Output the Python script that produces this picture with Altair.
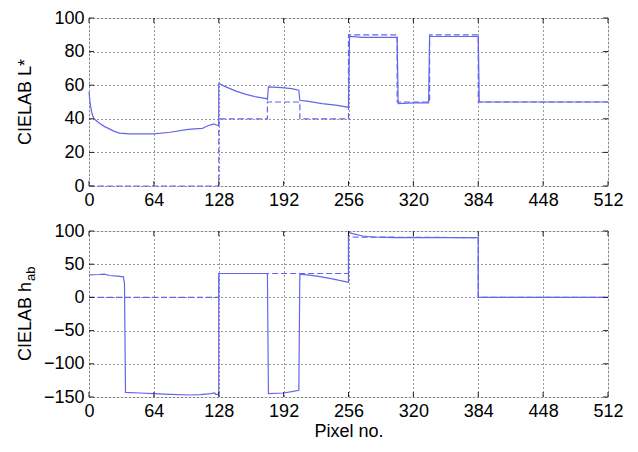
import altair as alt
import pandas as pd

FONT = "Liberation Sans"
LINE_COLOR = "#6464ec"

x_ticks = [0, 64, 128, 192, 256, 320, 384, 448, 512]
l_ticks = [0, 20, 40, 60, 80, 100]
h_ticks = [-150, -100, -50, 0, 50, 100]

# Top panel: CIELAB L*  (measured = solid, target = dashed)
l_meas_x = [0, 1, 2, 3, 5, 10, 15, 20, 25, 30, 40, 64, 80, 96, 104, 112, 114, 118, 121, 123, 125, 127, 128,
            128, 135, 145, 155, 165, 175, 176, 177, 190, 200, 207, 208, 215, 230, 245, 255, 256,
            257, 270, 304, 305, 320, 335, 336, 360, 384, 385, 512]
l_meas_y = [56, 50, 46, 43, 40, 37.5, 35.5, 34, 32.5, 31.5, 31, 31, 32, 33.5, 34, 34.3, 35, 36, 36.5, 37, 36.5, 36, 36,
            61, 59, 56.5, 54.5, 53, 52, 51.5, 59, 58.5, 58, 57, 51, 50.5, 49, 48, 47, 47,
            89, 88.5, 88.5, 49, 49.5, 49.5, 89, 89, 89, 50, 50]
l_targ_x = [0, 128, 128, 176, 176, 208, 208, 256, 256, 304, 304, 336, 336, 384, 384, 512]
l_targ_y = [0, 0, 40, 40, 50, 50, 40, 40, 90, 90, 50, 50, 90, 90, 50, 50]

# Bottom panel: CIELAB h_ab
h_meas_x = [0, 10, 15, 20, 28, 34, 35, 36, 50, 64, 80, 100, 110, 120, 124, 125, 127, 128,
            128, 150, 176, 177, 192, 200, 207, 208, 215, 225, 240, 255, 256,
            256, 260, 270, 280, 300, 384, 384, 512]
h_meas_y = [34, 34.5, 35, 33, 32, 31, 20, -143, -144, -145, -146, -147, -146.5, -145, -144, -146, -146, -146,
            36, 36, 36, -145, -144, -142, -140, 35, 34, 32, 28, 23, 23,
            98, 96, 92.5, 91, 90, 90, 0, 0]
h_targ_x = [0, 128, 128, 256, 256, 384, 384, 512]
h_targ_y = [0, 0, 36, 36, 91, 90, 0, 0]


def frame(xs, ys):
    return pd.DataFrame({"x": xs, "y": ys, "i": list(range(len(xs)))})


def panel(meas, targ, ydom, yticks, w, h, xtitle, titles):
    xaxis = alt.Axis(values=x_ticks, title=xtitle, grid=True, gridDash=[1, 3], gridColor="#333",
                     labelFontSize=18, labelFont=FONT, labelColor="black", tickSize=0, domain=False,
                     labelPadding=5, titleFont=FONT, titleFontSize=18, titleFontWeight="normal",
                     titleColor="black", titlePadding=2, labelFlush=False, labelOverlap=False)
    yaxis = alt.Axis(values=yticks, title=None, grid=True, gridDash=[1, 3], gridColor="#333",
                     labelFontSize=18, labelFont=FONT, labelColor="black", tickSize=0, domain=False,
                     labelPadding=5, labelFlush=False, labelOverlap=False)
    xs = alt.Scale(domain=[0, 512], nice=False)
    ys = alt.Scale(domain=ydom, nice=False)
    X = lambda: alt.X("x:Q", scale=xs, axis=xaxis, title=xtitle)
    Y = lambda: alt.Y("y:Q", scale=ys, axis=yaxis, title=None)

    solid = alt.Chart(meas).mark_line(color=LINE_COLOR, strokeWidth=1.2).encode(
        x=X(), y=Y(), order="i:Q")
    dashed = alt.Chart(targ).mark_line(color=LINE_COLOR, strokeWidth=1.2, strokeDash=[6, 3]).encode(
        x=X(), y=Y(), order="i:Q")

    tx = pd.DataFrame({"x": x_ticks})
    ty = pd.DataFrame({"y": yticks})
    tk_bot = alt.Chart(tx).mark_rule(color="#222", strokeWidth=1).encode(
        x=X(), y=alt.value(h - 5), y2=alt.value(h))
    tk_top = alt.Chart(tx).mark_rule(color="#222", strokeWidth=1).encode(
        x=X(), y=alt.value(0), y2=alt.value(5))
    tk_left = alt.Chart(ty).mark_rule(color="#222", strokeWidth=1).encode(
        y=Y(), x=alt.value(0), x2=alt.value(5))
    tk_right = alt.Chart(ty).mark_rule(color="#222", strokeWidth=1).encode(
        y=Y(), x=alt.value(w - 5), x2=alt.value(w))

    layers = [solid, dashed, tk_bot, tk_top, tk_left, tk_right] + titles
    return alt.layer(*layers).properties(width=w, height=h)


W = 519
H1 = 168
H2 = 166

top_title = alt.Chart(pd.DataFrame({"t": ["CIELAB L*"]})).mark_text(
    angle=270, font=FONT, fontSize=18, color="black", align="center", baseline="alphabetic").encode(
    text="t:N", x=alt.value(-58), y=alt.value(H1 / 2))

bot_title_main = alt.Chart(pd.DataFrame({"t": ["CIELAB h"]})).mark_text(
    angle=270, font=FONT, fontSize=18, color="black", align="right", baseline="alphabetic").encode(
    text="t:N", x=alt.value(-58), y=alt.value(H2 / 2 - 32))
bot_title_sub = alt.Chart(pd.DataFrame({"t": ["ab"]})).mark_text(
    angle=270, font=FONT, fontSize=13, color="black", align="left", baseline="alphabetic").encode(
    text="t:N", x=alt.value(-54), y=alt.value(H2 / 2 - 33))

top = panel(frame(l_meas_x, l_meas_y), frame(l_targ_x, l_targ_y), [0, 100], l_ticks, W, H1, None, [top_title])
bottom = panel(frame(h_meas_x, h_meas_y), frame(h_targ_x, h_targ_y), [-150, 100], h_ticks, W, H2,
               "Pixel no.", [bot_title_main, bot_title_sub])

chart = alt.vconcat(top, bottom, spacing=11).properties(
    padding={"left": 8, "top": 0, "right": 5, "bottom": 0}
).configure_view(stroke="#222", strokeWidth=1).configure(background="white")

chart.save("out.html", embed_options={"renderer": "svg", "actions": False})
